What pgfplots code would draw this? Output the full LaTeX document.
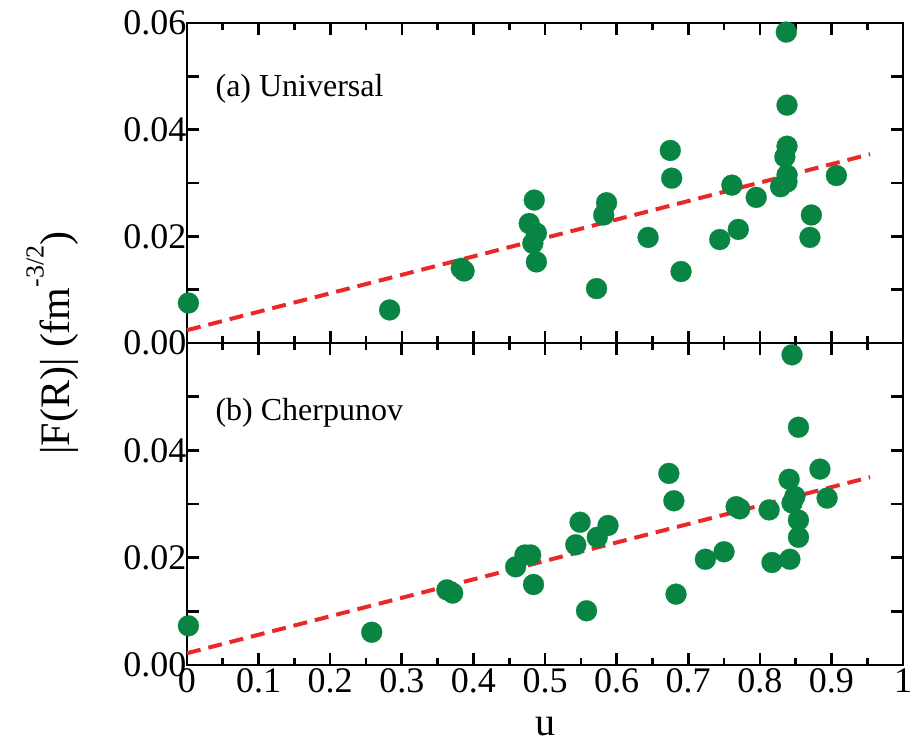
\documentclass[border=0pt]{standalone}
\usepackage{fontspec}
\setmainfont{Liberation Serif}
\usepackage{pgfplots}
\pgfplotsset{compat=1.18}
\definecolor{ptgreen}{RGB}{8,133,66}
\definecolor{fitred}{RGB}{235,40,40}

\pgfplotsset{
  panel/.style={
    scale only axis, width=716pt, clip=false,
    xmin=0, xmax=1, ymin=0, ymax=0.06,
    scaled y ticks=false, scaled x ticks=false,
    axis line style={line width=2.8pt},
    tick style={black, line width=2.6pt},
    major tick length=12pt, minor tick length=7pt,
    xtick={0,0.1,0.2,0.3,0.4,0.5,0.6,0.7,0.8,0.9,1},
    minor xtick={0.05,0.15,0.25,0.35,0.45,0.55,0.65,0.75,0.85,0.95},
    ytick={0,0.01,0.02,0.03,0.04,0.05,0.06},
    tick label style={font=\fontsize{36}{36}\selectfont},
    yticklabel style={xshift=3pt},
  },
  dots/.style={only marks, mark=*, mark size=10.5pt,
    mark options={draw=ptgreen, fill=ptgreen, line width=0.2pt}},
  fit/.style={fitred, line width=4pt, dash pattern=on 14pt off 8pt},
}

\begin{document}
\begin{tikzpicture}
\useasboundingbox (-187pt,-403pt) rectangle (732pt,343pt);

% (a) universal
\begin{axis}[panel, name=a, at={(0,0)}, anchor=south west, height=320pt,
  xticklabels={},
  yticklabels={0.00,,0.02,,0.04,,0.06}]
\addplot[dots] coordinates {
(0.002,0.0075)(0.283,0.0062)(0.383,0.0140)(0.387,0.0135)(0.485,0.0268)
(0.478,0.0224)(0.488,0.0206)(0.483,0.0187)(0.488,0.0152)(0.572,0.0102)
(0.582,0.0240)(0.586,0.0263)(0.644,0.0198)(0.675,0.0361)(0.677,0.0309)
(0.690,0.0134)(0.744,0.0194)(0.761,0.0296)(0.770,0.0213)(0.795,0.0273)
(0.829,0.0293)(0.835,0.0349)(0.837,0.0583)(0.838,0.0446)(0.838,0.0369)
(0.838,0.0315)(0.838,0.0302)(0.870,0.0198)(0.872,0.0240)(0.907,0.0314)
};
\addplot[fit] coordinates {(0,0.0024)(0.954,0.0354)};
\node[anchor=base west, font=\fontsize{32}{32}\selectfont] at (rel axis cs:0.035,0.77) {(a) Universal};
\end{axis}

% (b) Cherpunov
\begin{axis}[panel, name=b, at={(0,0)}, anchor=north west, height=322pt,
  xticklabels={0,0.1,0.2,0.3,0.4,0.5,0.6,0.7,0.8,0.9,1},
  yticklabels={0.00,,0.02,,0.04,,},
  xlabel={u},
  xlabel style={font=\fontsize{40}{40}\selectfont, at={(axis description cs:0.5,0)}, anchor=center, yshift=-62pt}]
\addplot[dots] coordinates {
(0.002,0.0073)(0.258,0.0061)(0.363,0.0140)(0.371,0.0134)(0.459,0.0183)
(0.472,0.0205)(0.480,0.0205)(0.484,0.0150)(0.543,0.0224)(0.549,0.0266)
(0.558,0.0101)(0.573,0.0238)(0.588,0.0260)(0.673,0.0357)(0.680,0.0306)
(0.683,0.0132)(0.724,0.0197)(0.750,0.0211)(0.767,0.0295)(0.772,0.0291)
(0.813,0.0289)(0.817,0.0191)(0.841,0.0346)(0.842,0.0197)(0.845,0.0578)
(0.849,0.0314)(0.845,0.0302)(0.854,0.0443)(0.854,0.0270)(0.854,0.0238)
(0.884,0.0365)(0.894,0.0311)
};
\addplot[fit] coordinates {(0,0.0022)(0.954,0.0350)};
\node[anchor=base west, font=\fontsize{32}{32}\selectfont] at (rel axis cs:0.035,0.76) {(b) Cherpunov};
\node[rotate=90, anchor=south, inner sep=0pt, font=\fontsize{42}{42}\selectfont]
  at (rel axis cs:-0.151,1) {|F(R)| (fm\raisebox{0.62em}{\fontsize{26}{26}\selectfont -3/2})};
\end{axis}
\end{tikzpicture}
\end{document}
